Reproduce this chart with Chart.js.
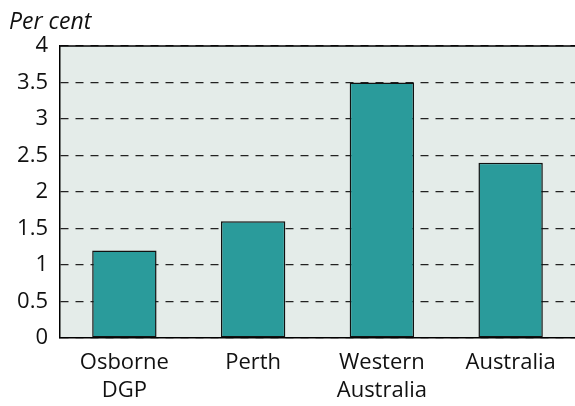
<!DOCTYPE html>
<html><head><meta charset="utf-8">
<script src="https://cdn.jsdelivr.net/npm/chart.js@4/dist/chart.umd.min.js"></script>
<style>html,body{margin:0;padding:0;background:#fff}#wrap{width:575px;height:406px}</style>
</head><body><div id="wrap"><canvas id="c" width="575" height="406"></canvas></div>
<script>
const categories = [["Osborne","DGP"],["Perth"],["Western","Australia"],["Australia"]];
const values = [1.2, 1.6, 3.5, 2.4];
const yTicks = [0,0.5,1,1.5,2,2.5,3,3.5,4];
const unitLabel = "Per cent";

const FONT = "'Open Sans', Lato, sans-serif";
const extras = {
  id: 'extras',
  beforeDraw(chart){
    const {ctx, chartArea:a} = chart;
    ctx.save();
    ctx.fillStyle = '#e4ece9';
    ctx.fillRect(a.left, a.top, a.right - a.left, a.bottom - a.top);
    ctx.restore();
  },
  afterDraw(chart){
    const {ctx, chartArea:a} = chart;
    ctx.save();
    ctx.strokeStyle = '#000'; ctx.lineWidth = 1.5;
    ctx.beginPath(); ctx.moveTo(a.left, a.top); ctx.lineTo(a.right, a.top); ctx.stroke();
    ctx.fillStyle = '#111';
    ctx.font = "italic 23px " + FONT;
    ctx.textBaseline = 'alphabetic';
    ctx.fillText(unitLabel, 9, 29);
    ctx.restore();
  }
};
new Chart(document.getElementById('c'), {
  type: 'bar',
  data: { labels: categories, datasets: [{ data: values, backgroundColor: '#2a9b9b', borderColor: '#111', borderWidth: 1.5, borderSkipped: false, barPercentage: 0.5, categoryPercentage: 1 }] },
  options: {
    responsive: false, animation: false, devicePixelRatio: 1,
    layout: { padding: { top: 46, right: 0, bottom: 0, left: 0 } },
    plugins: { legend: { display: false }, tooltip: { enabled: false } },
    scales: {
      x: {
        grid: { display: false },
        border: { display: true, color: '#000', width: 1.5 },
        ticks: { color: '#111', font: { size: 22, family: FONT, lineHeight: 1.27 }, padding: 3, maxRotation: 0, autoSkip: false },
        afterFit(s){ s.height = 68; }
      },
      y: {
        min: 0, max: 4,
        afterBuildTicks(s){ s.ticks = yTicks.map(v => ({value: v})); },
        grid: { color: '#222', lineWidth: 1.2, drawTicks: false },
        border: { display: true, color: '#000', width: 1.5, dash: [8, 7] },
        ticks: { color: '#111', font: { size: 22, family: FONT }, padding: 12, callback: v => String(v) },
        afterFit(s){ s.width = 60; }
      }
    }
  },
  plugins: [extras]
});
</script></body></html>
